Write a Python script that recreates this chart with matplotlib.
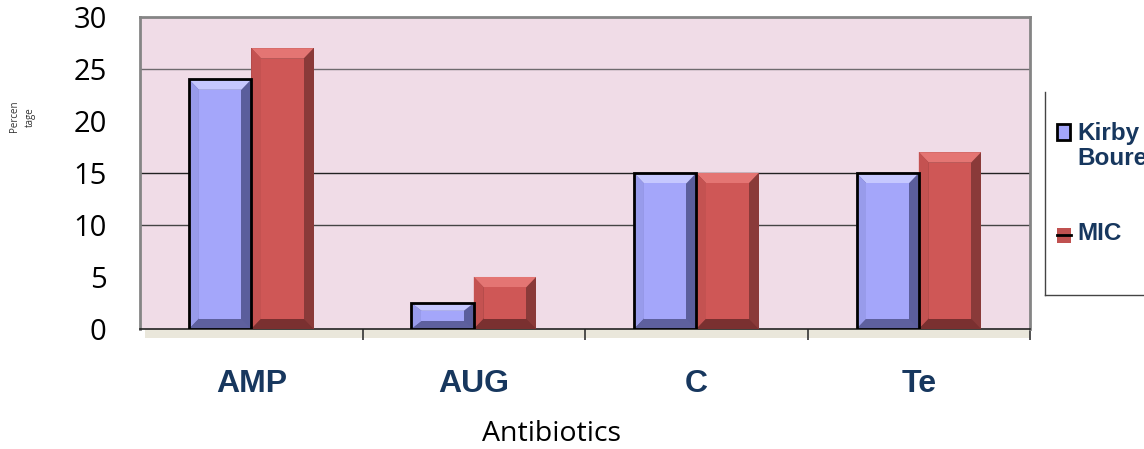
import matplotlib.pyplot as plt
from matplotlib.patches import Rectangle, Polygon
from matplotlib.lines import Line2D

antibiotics = ['AMP', 'AUG', 'C', 'Te']
kirby = [24, 2.5, 15, 15]
mic = [27, 5, 15, 17]
ytick_vals = [0, 5, 10, 15, 20, 25, 30]

navy = '#17375E'
fig = plt.figure(figsize=(11.44, 4.49), dpi=100)
ax = fig.add_axes([0.1224, 0.2673, 0.7780, 0.6950])
ax.set_facecolor('#F0DCE7')
ax.set_xlim(-0.5, 3.5)
ax.set_ylim(0, 30)

# gridlines (only some drawn in the original)
for v, c in [(25, '#6E6A6E'), (15, '#222222'), (10, '#444444')]:
    ax.axhline(v, color=c, lw=1.0, zorder=1)


def bevel_bar(x, h, w, face, light, dark, side, edge=None):
    ax.add_patch(Rectangle((x - w / 2, 0), w, h, facecolor=side, edgecolor='none', zorder=3))
    bx = w * 0.16
    by = min(1.0, h * 0.3)
    x0, x1 = x - w / 2, x + w / 2
    ax.add_patch(Polygon([(x0, h), (x1, h), (x1 - bx, h - by), (x0 + bx, h - by)],
                         facecolor=light, edgecolor='none', zorder=3))
    ax.add_patch(Polygon([(x0, 0), (x0, h), (x0 + bx, h - by), (x0 + bx, by)],
                         facecolor=face, edgecolor='none', zorder=3, alpha=0.85))
    ax.add_patch(Polygon([(x0, 0), (x1, 0), (x1 - bx, by), (x0 + bx, by)],
                         facecolor=dark, edgecolor='none', zorder=3))
    ax.add_patch(Rectangle((x0 + bx, by), w - 2 * bx, h - 2 * by, facecolor=face,
                           edgecolor='none', zorder=4))
    if edge:
        ax.add_patch(Rectangle((x0, 0), w, h, facecolor='none', edgecolor=edge, lw=2, zorder=5))


w = 0.28
for i in range(len(antibiotics)):
    bevel_bar(i - w / 2, kirby[i], w, '#A4A6FA', '#C6C8FF', '#5E609E', '#5B5E9C', edge='black')
    bevel_bar(i + w / 2, mic[i], w, '#CF5756', '#E47573', '#7A3030', '#8A3A39')

for s in ['left', 'right', 'top']:
    ax.spines[s].set_color('#858585')
    ax.spines[s].set_linewidth(2)
ax.spines['bottom'].set_color('#222222')
ax.spines['bottom'].set_linewidth(1.2)

ax.set_yticks(ytick_vals)
ax.set_yticklabels([str(v) for v in ytick_vals], fontsize=21, family='Open Sans')
ax.set_yticks([0, 10, 15, 25, 30], minor=True)
ax.tick_params(axis='y', which='major', length=0, pad=24)
ax.tick_params(axis='y', which='minor', length=10, width=1.2, color='#444444')

ax.set_xticks([0, 1, 2, 3])
ax.set_xticklabels(antibiotics, fontsize=23, fontweight='bold', color=navy, family='Liberation Sans')
ax.tick_params(axis='x', which='major', length=0, pad=29)
ax.set_xticks([0.5, 1.5, 2.5, 3.5], minor=True)
ax.tick_params(axis='x', which='minor', length=8, width=1.2, color='#333333')

fig.text(551 / 1144, 1 - 434 / 449, 'Antibiotics', fontsize=20.5, family='Open Sans',
         ha='center', va='center')

fig.text(0.02, 0.74, 'Percen\ntage', rotation=90, fontsize=7, ha='center', va='center',
         color='#333333', family='Open Sans', linespacing=1.6)

# shadow strip below plot area
fig.add_artist(Rectangle((145 / 1144, 1 - 338 / 449), 885 / 1144, 9 / 449,
                         transform=fig.transFigure, facecolor='#EAE7DB', edgecolor='none', zorder=0))

# legend box (partially cut off)
fig.add_artist(Line2D([1045 / 1144, 1045 / 1144], [1 - 92 / 449, 1 - 295 / 449], color='#444444', lw=1))
fig.add_artist(Line2D([1045 / 1144, 1.0], [1 - 295 / 449, 1 - 295 / 449], color='#444444', lw=1))
fig.add_artist(Rectangle((1057 / 1144, 1 - 140 / 449), 13 / 1144, 16 / 449, transform=fig.transFigure,
                         facecolor='#A4A6FA', edgecolor='black', lw=2))
fig.add_artist(Rectangle((1057 / 1144, 1 - 243 / 449), 14 / 1144, 15 / 449, transform=fig.transFigure,
                         facecolor='#C05150', edgecolor='none'))
fig.add_artist(Line2D([1057 / 1144, 1071 / 1144], [1 - 235 / 449, 1 - 235 / 449], color='black', lw=2))
fig.text(1077 / 1144, 1 - 146 / 449, 'Kirby\nBoure', fontsize=17.5, fontweight='bold', color=navy,
         family='Liberation Sans', va='center', ha='left', linespacing=1.1)
fig.text(1077 / 1144, 1 - 234 / 449, 'MIC', fontsize=17.5, fontweight='bold', color=navy,
         family='Liberation Sans', va='center', ha='left')

fig.savefig('out.png', dpi=100)
